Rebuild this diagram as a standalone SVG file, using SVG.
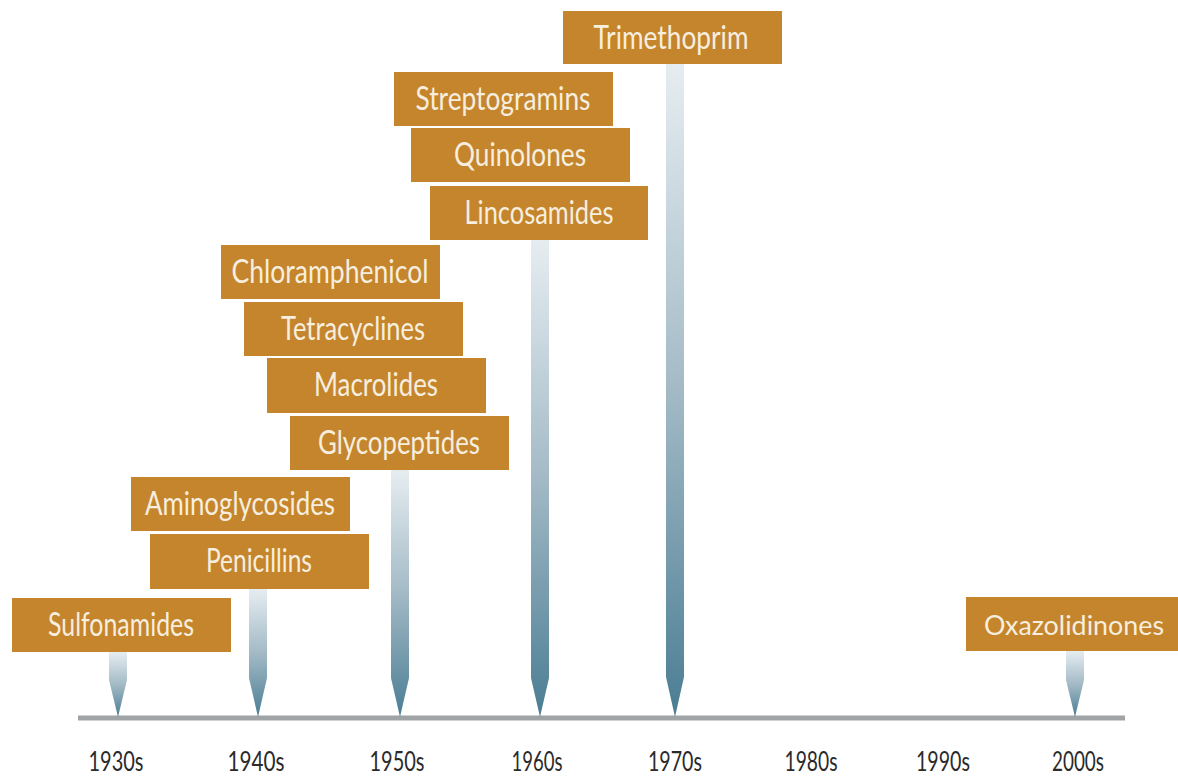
<svg xmlns="http://www.w3.org/2000/svg" width="1178" height="778" viewBox="0 0 1178 778">
<defs>
<linearGradient id="spk" x1="0" y1="0" x2="0" y2="1">
<stop offset="0" stop-color="#e6edf1"/>
<stop offset="0.5" stop-color="#a3bac6"/>
<stop offset="1" stop-color="#4a7d93"/>
</linearGradient>
<style>
.box{fill:#c5852d}
.lbl{font-family:Lato,"Open Sans","Liberation Sans",sans-serif;font-size:32px;fill:#f6eedf;text-anchor:middle}
.yr{font-family:Lato,"Open Sans","Liberation Sans",sans-serif;font-size:27px;fill:#2a2a2a;text-anchor:middle}
.spike{fill:url(#spk)}
.axis{stroke:#a0a4a7;stroke-width:5}
</style>
</defs>
<rect width="1178" height="778" fill="#ffffff"/>
<g id="connectors">
<line class="axis" x1="78" y1="718" x2="1125" y2="718"/>
<path class="spike" d="M109,652 H127 V680 L118,717 L109,680 Z"/>
<path class="spike" d="M249,589 H267 V678 L258,717 L249,678 Z"/>
<path class="spike" d="M391,470 H409 V678 L400,717 L391,678 Z"/>
<path class="spike" d="M531,240 H549 V678 L540,717 L531,678 Z"/>
<path class="spike" d="M666,64 H684 V677 L675,717 L666,677 Z"/>
<path class="spike" d="M1066,651 H1084 V680 L1075,717 L1066,680 Z"/>
</g>
<g id="years">
<text class="yr" x="116" y="771" textLength="55" lengthAdjust="spacingAndGlyphs">1930s</text>
<text class="yr" x="256" y="771" textLength="57" lengthAdjust="spacingAndGlyphs">1940s</text>
<text class="yr" x="397" y="771" textLength="55" lengthAdjust="spacingAndGlyphs">1950s</text>
<text class="yr" x="537" y="771" textLength="51" lengthAdjust="spacingAndGlyphs">1960s</text>
<text class="yr" x="675" y="771" textLength="54" lengthAdjust="spacingAndGlyphs">1970s</text>
<text class="yr" x="811" y="771" textLength="53" lengthAdjust="spacingAndGlyphs">1980s</text>
<text class="yr" x="943" y="771" textLength="54" lengthAdjust="spacingAndGlyphs">1990s</text>
<text class="yr" x="1078" y="771" textLength="52" lengthAdjust="spacingAndGlyphs">2000s</text>
</g>
<g id="sulfonamides"><rect class="box" x="12" y="598" width="219" height="54"/><text class="lbl" x="121" y="636" textLength="146" lengthAdjust="spacingAndGlyphs">Sulfonamides</text></g>
<g id="penicillins"><rect class="box" x="150" y="534" width="219" height="55"/><text class="lbl" x="259" y="572" textLength="106" lengthAdjust="spacingAndGlyphs">Penicillins</text></g>
<g id="aminoglycosides"><rect class="box" x="131" y="477" width="219" height="54"/><text class="lbl" x="240" y="515" textLength="190" lengthAdjust="spacingAndGlyphs">Aminoglycosides</text></g>
<g id="glycopeptides"><rect class="box" x="290" y="416" width="219" height="54"/><text class="lbl" x="399" y="454" textLength="162" lengthAdjust="spacingAndGlyphs">Glycopeptides</text></g>
<g id="macrolides"><rect class="box" x="267" y="358" width="219" height="55"/><text class="lbl" x="376" y="396" textLength="124" lengthAdjust="spacingAndGlyphs">Macrolides</text></g>
<g id="tetracyclines"><rect class="box" x="244" y="302" width="219" height="54"/><text class="lbl" x="353" y="340" textLength="144" lengthAdjust="spacingAndGlyphs">Tetracyclines</text></g>
<g id="chloramphenicol"><rect class="box" x="221" y="245" width="219" height="54"/><text class="lbl" x="330" y="283" textLength="197" lengthAdjust="spacingAndGlyphs">Chloramphenicol</text></g>
<g id="lincosamides"><rect class="box" x="430" y="186" width="218" height="54"/><text class="lbl" x="539" y="224" textLength="149" lengthAdjust="spacingAndGlyphs">Lincosamides</text></g>
<g id="quinolones"><rect class="box" x="411" y="128" width="219" height="54"/><text class="lbl" x="520" y="166" textLength="132" lengthAdjust="spacingAndGlyphs">Quinolones</text></g>
<g id="streptogramins"><rect class="box" x="394" y="72" width="219" height="54"/><text class="lbl" x="503" y="110" textLength="175" lengthAdjust="spacingAndGlyphs">Streptogramins</text></g>
<g id="trimethoprim"><rect class="box" x="563" y="11" width="219" height="53"/><text class="lbl" x="671" y="49" textLength="155" lengthAdjust="spacingAndGlyphs">Trimethoprim</text></g>
<g id="oxazolidinones"><rect class="box" x="966" y="597" width="212" height="54"/><text class="lbl" x="1074" y="635" style="font-size:26px" textLength="180" lengthAdjust="spacingAndGlyphs">Oxazolidinones</text></g>
</svg>
